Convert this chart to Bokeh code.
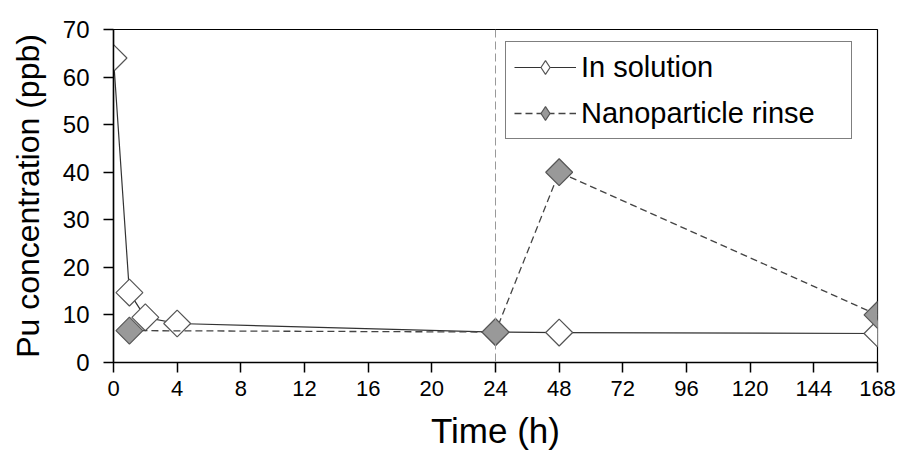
import numpy as np
from bokeh.plotting import figure
from bokeh.models import FixedTicker, Span, Legend, LegendItem, ColumnDataSource
from bokeh.embed import file_html
from bokeh.resources import INLINE

# Data (hours, ppb)
sol_time = [0, 1, 2, 4, 24, 48, 168]
sol_conc = [64, 14.7, 9.5, 8.2, 6.4, 6.3, 6.1]
np_time = [1, 24, 48, 168]
np_conc = [6.7, 6.4, 40, 10]
x_ticks = [0, 4, 8, 12, 16, 20, 24, 48, 72, 96, 120, 144, 168]
y_ticks = [0, 10, 20, 30, 40, 50, 60, 70]
break_hour = 24


def xmap(t):
    t = np.asarray(t, dtype=float)
    return np.where(t <= break_hour, t, break_hour + (t - break_hour) / 6.0)


FONT = "Liberation Sans"

p = figure(width=897, height=457, output_backend="svg", toolbar_location=None,
           x_range=(0, float(xmap(168))), y_range=(0, 70),
           min_border_left=113, min_border_right=20, min_border_top=29, min_border_bottom=95)
p.xgrid.visible = False
p.ygrid.visible = False
p.outline_line_color = "black"
p.outline_line_width = 1.2
p.background_fill_color = "white"
p.border_fill_color = "white"

xt = [float(v) for v in xmap(x_ticks)]
p.xaxis.ticker = FixedTicker(ticks=xt)
p.xaxis.major_label_overrides = {v: str(t) for v, t in zip(xt, x_ticks)}
p.yaxis.ticker = FixedTicker(ticks=y_ticks)
for ax in (p.xaxis[0], p.yaxis[0]):
    ax.axis_line_color = "black"
    ax.axis_line_width = 1.5
    ax.major_tick_line_color = "black"
    ax.major_tick_line_width = 1.5
    ax.major_tick_out = 10
    ax.major_tick_in = 0
    ax.minor_tick_line_color = None
    ax.major_label_text_font = FONT
    ax.major_label_text_color = "black"
    ax.axis_label_text_font = FONT
    ax.axis_label_text_font_style = "normal"
    ax.axis_label_text_color = "black"
p.xaxis.major_label_text_font_size = "22px"
p.yaxis.major_label_text_font_size = "24px"
p.xaxis.axis_label = "Time (h)"
p.xaxis.axis_label_text_font_size = "35px"
p.xaxis.axis_label_standoff = 12
p.xaxis.major_label_standoff = 8
p.yaxis.axis_label = "Pu concentration (ppb)"
p.yaxis.axis_label_text_font_size = "32px"
p.yaxis.axis_label_standoff = 14
p.yaxis.major_label_standoff = 14

p.add_layout(Span(location=float(xmap(break_hour)), dimension="height",
                  line_color="#999999", line_dash="8 4", line_width=1))

src_sol = ColumnDataSource(dict(x=xmap(sol_time), y=sol_conc))
src_np = ColumnDataSource(dict(x=xmap(np_time), y=np_conc))

l1 = p.line("x", "y", source=src_sol, line_color="#333333", line_width=1.2)
m1 = p.scatter("x", "y", source=src_sol, marker="square", angle=np.pi / 4, size=19,
               fill_color="white", line_color="#555555", line_width=1.2)
l2 = p.line("x", "y", source=src_np, line_color="#444444", line_width=1.3, line_dash="7 4")
m2 = p.scatter("x", "y", source=src_np, marker="square", angle=np.pi / 4, size=19,
               fill_color="#999999", line_color="#555555", line_width=1.2)

# legend-only diamond glyphs (a single undefined point, nothing is drawn in the plot)
nodata = ColumnDataSource(dict(x=[np.nan], y=[np.nan]))
k1 = p.scatter("x", "y", source=nodata, marker="diamond", size=14,
               fill_color="white", line_color="#555555", line_width=1.2)
k2 = p.scatter("x", "y", source=nodata, marker="diamond", size=14,
               fill_color="#999999", line_color="#555555", line_width=1.2)

legend = Legend(items=[LegendItem(label="In solution", renderers=[l1, k1]),
                       LegendItem(label="Nanoparticle rinse", renderers=[l2, k2])],
                location=(392, 223))
legend.border_line_color = "black"
legend.border_line_width = 1.2
legend.label_text_font = FONT
legend.label_text_font_size = "29px"
legend.label_text_color = "black"
legend.glyph_width = 62
legend.glyph_height = 34
legend.label_height = 30
legend.label_width = 262
legend.spacing = 12
legend.padding = 8
legend.margin = 0
legend.label_standoff = 5
legend.background_fill_alpha = 1
p.add_layout(legend)

open("out.html", "w").write(file_html(p, INLINE))
